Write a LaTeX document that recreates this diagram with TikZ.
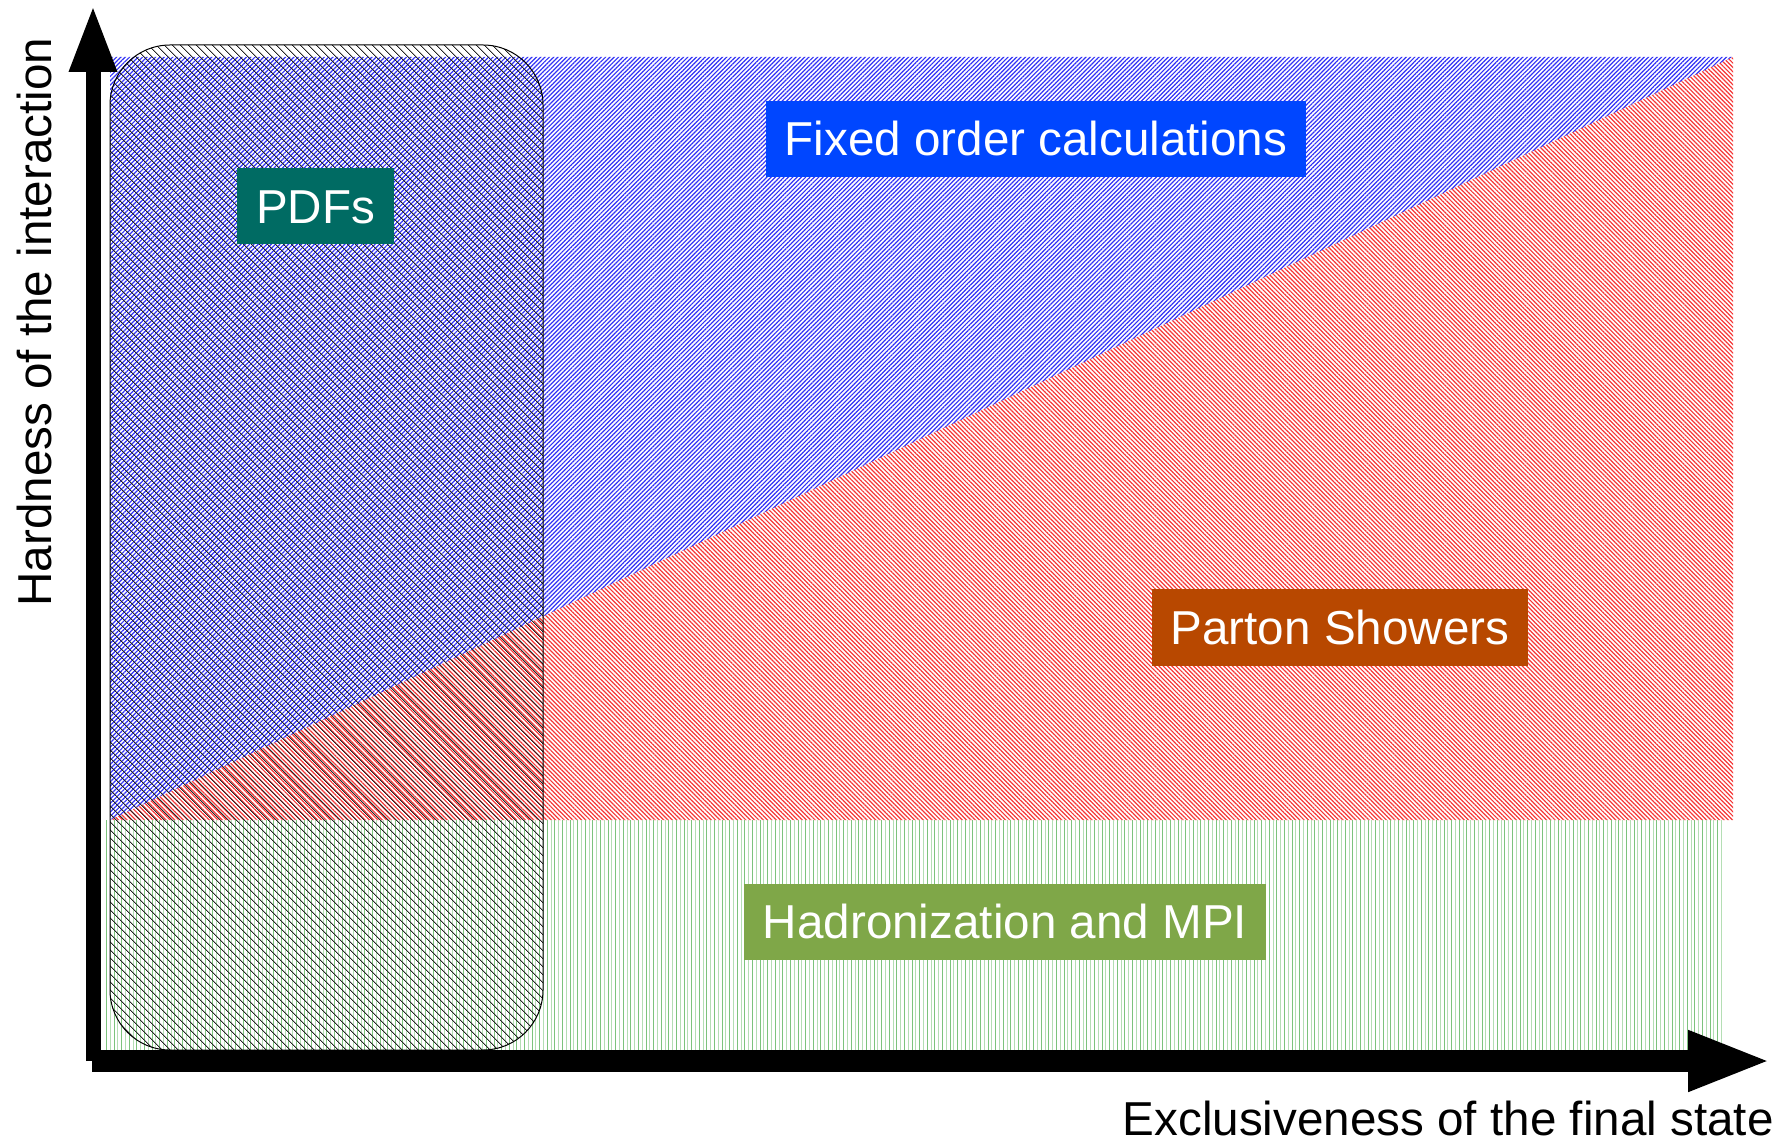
\documentclass[tikz,border=0pt]{standalone}
\usepackage{fontspec}
\setmainfont{Liberation Sans}
\usepackage{tikz}
\usetikzlibrary{arrows.meta, patterns.meta}

\definecolor{fixedblue}{RGB}{0,70,255}
\definecolor{hatchblue}{RGB}{50,50,245}
\definecolor{hatchred}{RGB}{245,55,55}
\definecolor{showerrust}{RGB}{184,72,0}
\definecolor{hadrongreen}{RGB}{127,167,72}
\definecolor{greendark}{RGB}{125,195,125}
\definecolor{greenlight}{RGB}{180,222,180}
\definecolor{pdfteal}{RGB}{0,107,99}

\begin{document}
\begin{tikzpicture}[x=0.5pt, y=-0.5pt,
        tagbox/.style={rectangle, text=white, font=\fontsize{23.8}{28}\selectfont, inner xsep=9.5pt, minimum height=38pt, text height=17pt, text depth=0pt},
        axislabel/.style={font=\fontsize{23.8}{28}\selectfont, inner sep=0pt},
        hardarrow/.style={line width=7.5pt, -{Triangle[length=33.5pt, width=22pt]}},
        exclarrow/.style={line width=11pt, -{Triangle[length=42pt, width=27.5pt]}}
    ]
        \useasboundingbox (0,0) rectangle (1792,1143);

        % regions
        \fill[pattern={Lines[angle=45, distance=1.53pt, line width=0.6pt]}, pattern color=hatchblue]
            (110,57) -- (1733,57) -- (110,820) -- cycle;
        \fill[pattern={Lines[angle=-45, distance=1.53pt, line width=0.6pt]}, pattern color=hatchred]
            (110,820) -- (1733,57) -- (1733,820) -- cycle;
        \fill[pattern={Lines[angle=90, distance=3.8pt, line width=0.5pt]}, pattern color=greendark]
            (103,820) rectangle (1723,1050);
        \fill[pattern={Lines[angle=90, distance=3.8pt, line width=0.5pt, xshift=1.9pt]}, pattern color=greenlight]
            (103,820) rectangle (1723,1050);

        % PDF band
        \draw[line width=0.5pt, rounded corners=30pt, pattern={Lines[angle=-45, distance=3.07pt, line width=0.45pt]}, pattern color=black!85]
            (110,45) rectangle (543,1050);

        \node[tagbox, fill=pdfteal] (pdfs) at (315.5,206.5) {PDFs};
        \node[tagbox, fill=fixedblue] (fixed) at (1036,139) {Fixed order calculations};
        \node[tagbox, fill=showerrust] (shower) at (1340,627.5) {Parton Showers};
        \node[tagbox, fill=hadrongreen] (hadron) at (1005,921.5) {Hadronization and MPI};

        % axes
        \coordinate (ybot) at (93,1061);
        \coordinate (ytop) at (93,5);
        \coordinate (xleft) at (92,1061);
        \coordinate (xright) at (1772,1061);
        \draw[hardarrow] (ybot) -- (ytop);
        \draw[exclarrow] (xleft) -- (xright);

        \node[axislabel, rotate=90, anchor=base west] (hardness) at (51,607) {Hardness of the interaction};
        \node[axislabel, anchor=base east] (exclusive) at (1774,1135) {Exclusiveness of the final state};
    \end{tikzpicture}
\end{document}
